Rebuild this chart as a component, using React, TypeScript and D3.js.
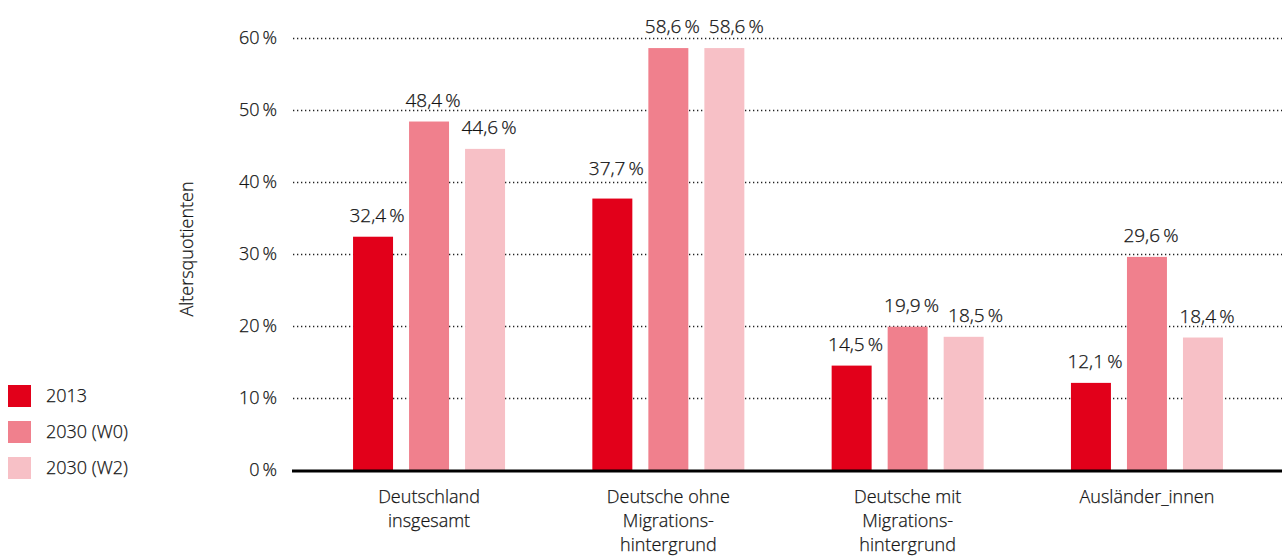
import React from "react";
import * as d3 from "d3";

const categories = [
  ["Deutschland", "insgesamt"],
  ["Deutsche ohne", "Migrations-", "hintergrund"],
  ["Deutsche mit", "Migrations-", "hintergrund"],
  ["Ausländer_innen"],
];
const seriesNames = ["2013", "2030 (W0)", "2030 (W2)"];
const values2013 = [32.4, 37.7, 14.5, 12.1];
const valuesW0 = [48.4, 58.6, 19.9, 29.6];
const valuesW2 = [44.6, 58.6, 18.5, 18.4];
const yTicks = [0, 10, 20, 30, 40, 50, 60];
const colors = ["#e2001a", "#f0808d", "#f7c0c6"];

const W = 1282;
const H = 556;
const FONT = "'Open Sans', 'Noto Sans', sans-serif";
const TXT = "#141414";

export default function App() {
  const series = [values2013, valuesW0, valuesW2];
  const y = d3.scaleLinear().domain([0, 60]).range([470, 38]);
  const x0 = d3
    .scaleBand<number>()
    .domain(d3.range(categories.length))
    .range([309.4, 1266.6])
    .paddingInner(0)
    .paddingOuter(0);
  const x1 = d3
    .scaleBand<number>()
    .domain(d3.range(seriesNames.length))
    .range([-76, 76])
    .paddingInner(0.286)
    .paddingOuter(0);
  const fmt = (v: number) => v.toFixed(1).replace(".", ",") + "\u2009%";
  const gridYs = yTicks.filter((t) => t > 0).map((t) => y(t));
  const labelY = (v: number) => {
    let base = y(v) - 15;
    for (const g of gridYs) {
      if (g > base - 13 && g < base + 1) base = g - 7;
    }
    return base;
  };

  const textProps = { fill: TXT, stroke: TXT, strokeWidth: 0.25 };

  return (
    <svg
      width={W}
      height={H}
      style={{ position: "absolute", left: 0, top: 0 }}
      fontFamily={FONT}
      fontWeight={300}
    >
      <rect width={W} height={H} fill="#fff" />
      {yTicks.map((t) => (
        <g key={t}>
          {t > 0 && (
            <line
              x1={293}
              x2={1282}
              y1={y(t) + 0.5}
              y2={y(t) + 0.5}
              stroke="#222"
              strokeWidth={1.3}
              strokeDasharray="1.3 2.7"
            />
          )}
          <text x={277} y={y(t) + 6} textAnchor="end" fontSize={18} {...textProps}>
            {t + "\u2009%"}
          </text>
        </g>
      ))}
      <text
        transform={`translate(193,249) rotate(-90)`}
        textAnchor="middle"
        fontSize={18}
        {...textProps}
      >
        Altersquotienten
      </text>
      {categories.map((cat, i) => {
        const cx = x0(i)! + x0.bandwidth() / 2;
        let prev: { x: number; y: number } | null = null;
        const labels = series.map((s, j) => {
          const v = s[i];
          let lx = cx + x1(j)! + x1.bandwidth() / 2 + 4;
          const ly = labelY(v);
          if (prev && Math.abs(prev.y - ly) < 14 && lx - prev.x < 64) {
            lx = prev.x + 64;
          }
          prev = { x: lx, y: ly };
          return { lx, ly, v };
        });
        return (
          <g key={i}>
            {series.map((s, j) => {
              const bx = cx + x1(j)!;
              const v = s[i];
              return (
                <g key={j}>
                  <rect
                    x={bx}
                    y={y(v)}
                    width={x1.bandwidth()}
                    height={y(0) - y(v)}
                    fill={colors[j]}
                  />
                  <text
                    x={labels[j].lx}
                    y={labels[j].ly}
                    textAnchor="middle"
                    fontSize={19}
                    {...textProps}
                  >
                    {fmt(v)}
                  </text>
                </g>
              );
            })}
            {cat.map((line, k) => (
              <text
                key={k}
                x={cx}
                y={503 + k * 24}
                textAnchor="middle"
                fontSize={18}
                {...textProps}
              >
                {line}
              </text>
            ))}
          </g>
        );
      })}
      <line x1={292} x2={1282} y1={471} y2={471} stroke="#000" strokeWidth={3} />
      {seriesNames.map((n, j) => (
        <g key={n}>
          <rect x={8} y={385 + j * 36} width={23} height={22} fill={colors[j]} />
          <text x={46} y={402 + j * 36} fontSize={18} {...textProps}>
            {n}
          </text>
        </g>
      ))}
    </svg>
  );
}
